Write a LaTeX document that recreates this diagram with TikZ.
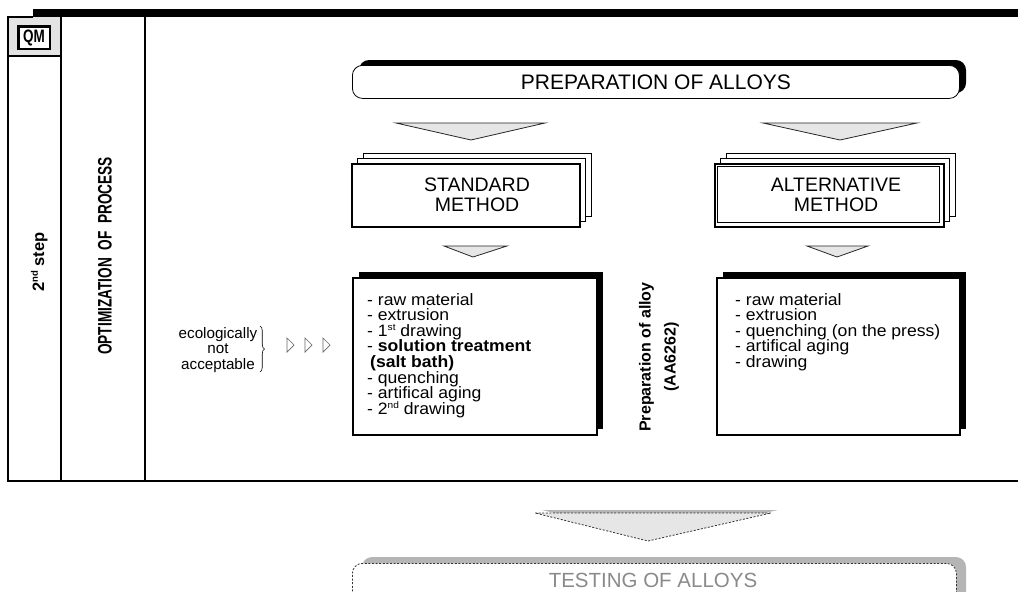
\documentclass[tikz,border=0pt]{standalone}
\usepackage{fontspec}
\setmainfont{Liberation Sans}
\newfontfamily\listfont[FakeStretch=1.065]{Liberation Sans}
\usepackage{graphicx}
\usetikzlibrary{decorations.pathreplacing}
\definecolor{cellgrey}{HTML}{E3E3E3}
\definecolor{chevfill}{HTML}{E6E6E6}
\definecolor{softgrey}{HTML}{B5B5B5}
\definecolor{dashgrey}{HTML}{333333}
\definecolor{fadedtext}{HTML}{8A8A8A}
\newcommand{\fsz}[2]{\fontsize{#1pt}{#2pt}\selectfont}
\newcommand{\supr}[1]{\raisebox{0.38em}[0pt][0pt]{\fsz{9.5}{9.5}#1}}
\tikzset{
  frameline/.style={line width=2pt, black, line cap=rect},
  chevron/.style={fill=chevfill, draw=black!85, line width=0.8pt, line join=miter},
  listtext/.style={anchor=north west, inner sep=0pt, align=left, font=\listfont\fsz{16.5}{15.6}},
  headtext/.style={inner sep=0pt, align=center, font=\fsz{19.5}{20}},
  layerbox/.style={draw=black, line width=0.8pt, fill=white},
  frontbox/.style={draw=black, line width=1.6pt, fill=white, inner sep=0pt, anchor=north west},
  blackshadow/.style={fill=black},
  dashedline/.style={draw=dashgrey, line width=0.8pt, dash pattern=on 2pt off 1.6pt},
  smalltri/.style={draw=black!60, line width=0.7pt, line join=miter},
}
\begin{document}
\begin{tikzpicture}[x=1pt, y=-1pt]
\useasboundingbox (0,0) rectangle (1018,592);
\clip (0,0) rectangle (1018,592);

% header bar and frame of the step table
\fill[black] (33,9) rectangle (1018,17);
\fill[cellgrey] (8,17) rectangle (61,56);
\draw[line width=1.5pt] (8,17) -- (33,17);
\draw[frameline] (8,56) -- (61,56);
\draw[frameline] (8,17) -- (8,481);
\draw[frameline] (61,17) -- (61,481);
\draw[frameline] (145,17) -- (145,481);
\draw[frameline] (8,481) -- (1018,481);

% QM badge
\node[draw, line width=2.5pt, fill=white, minimum width=31.5pt, minimum height=22.5pt, inner sep=0pt]
  (qm) at (34,37.5) {\fsz{18}{18}\bfseries\scalebox{0.75}[1]{QM}};

% column titles
\node[rotate=90, inner sep=0pt, font=\fsz{16.5}{16.5}\bfseries] (step) at (40,262) {2\supr{nd} step};
\node[rotate=90, inner sep=0pt] (optim) at (105,256)
  {\scalebox{0.7}[1]{\fsz{19.5}{19.5}\bfseries OPTIMIZATION\ \ OF\ \ PROCESS}};

% preparation of alloys
\fill[blackshadow, rounded corners=10pt] (359,60) rectangle (966,93);
\node[draw, line width=0.8pt, fill=white, rounded corners=10pt, minimum width=607pt, minimum height=33pt,
  inner sep=0pt, anchor=north west, font=\fsz{21}{21}] (prep) at (352,65) {PREPARATION OF ALLOYS};

% chevrons below the heading
\path[chevron] (396,123) -- (545,123) -- (471,140) -- cycle;
\path[chevron] (763,123) -- (917,123) -- (840,140) -- cycle;

% standard method stack
\draw[layerbox] (363,153) rectangle (591,216);
\draw[layerbox] (357,158) rectangle (585,221);
\node[frontbox, minimum width=228pt, minimum height=63pt] (std) at (351,163) {};
\node[headtext] (stdtext) at (477,195) {STANDARD\\METHOD};

% alternative method stack
\draw[layerbox] (726,153) rectangle (955,216);
\draw[layerbox] (720,158) rectangle (949,221);
\node[frontbox, minimum width=229pt, minimum height=63pt] (alt) at (714,163) {};
\draw[line width=0.8pt] (717.5,166.5) rectangle (939.5,222.5);
\node[headtext] (alttext) at (836,195) {ALTERNATIVE\\METHOD};

% small chevrons
\path[chevron] (444,246) -- (507,246) -- (473,257) -- cycle;
\path[chevron] (807,246) -- (868,246) -- (837,257) -- cycle;

% process step lists
\fill[blackshadow] (359,272) rectangle (603,429);
\node[frontbox, minimum width=244pt, minimum height=157pt] (stdlist) at (352,277) {};
\node[listtext] (stdsteps) at (367,293) {%
  - raw material\\
  - extrusion\\
  - 1\supr{st} drawing\\
  - \textbf{solution treatment}\\
  \hspace{3pt}\textbf{(salt bath)}\\
  - quenching\\
  - artifical aging\\
  - 2\supr{nd} drawing};

\fill[blackshadow] (723,272) rectangle (966,429);
\node[frontbox, minimum width=243pt, minimum height=157pt] (altlist) at (716,277) {};
\node[listtext] (altsteps) at (735,293) {%
  - raw material\\
  - extrusion\\
  - quenching (on the press)\\
  - artifical aging\\
  - drawing};

\node[rotate=90, inner sep=0pt, align=center, font=\fsz{16}{25}\bfseries] (alloy) at (659,357)
  {Preparation of alloy\\(AA6262)};

% ecological remark
\node[inner sep=0pt, align=center, anchor=north, font=\fsz{15.2}{15.5}] (eco) at (218,327)
  {ecologically\\not\\acceptable};
\coordinate (braceTop) at (260,326);
\coordinate (braceBot) at (260,372);
\draw[line width=0.6pt, decorate, decoration={brace, amplitude=4.5pt}] (braceTop) -- (braceBot);
\path[smalltri] (287,338) -- (294,345) -- (287,352) -- cycle;
\path[smalltri] (305,338) -- (312,345) -- (305,352) -- cycle;
\path[smalltri] (323,338) -- (330,345) -- (323,352) -- cycle;

% next step: testing
\fill[softgrey] (542,510) -- (778,510) -- (655,538) -- cycle;
\path[fill=chevfill] (535,513) -- (771,513) -- (648,541) -- cycle;
\draw[dashedline] (535,513) -- (771,513) -- (648,541) -- cycle;

\fill[softgrey, rounded corners=10pt] (362,557) rectangle (966,630);
\node[draw=dashgrey, line width=0.8pt, dash pattern=on 2pt off 1.6pt, fill=white, rounded corners=10pt,
  minimum width=604pt, minimum height=67pt, inner sep=0pt, anchor=north west] (testing) at (352,563) {};
\node[anchor=base, inner sep=0pt, text=fadedtext, font=\fsz{20.5}{20.5}] (testtext) at (653,587)
  {TESTING OF ALLOYS};
\end{tikzpicture}
\end{document}
